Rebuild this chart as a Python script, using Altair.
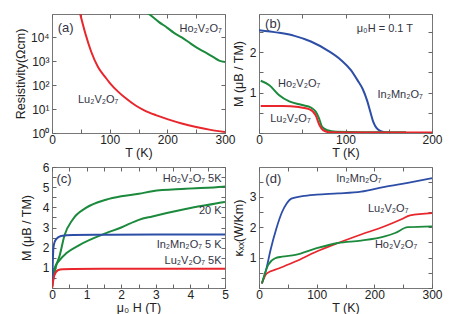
import altair as alt
import pandas as pd

RED = "#e8262c"
GREEN = "#1b8a3c"
BLUE = "#2d4ea6"
FONT = "Liberation Sans"
TXT = "#333344"

# ---------------- (a) resistivity ----------------
a_lu_T = [49, 58, 68, 80, 92, 100, 115, 128, 145, 160, 180, 200, 225, 250, 275, 300]
a_lu_rho = [93300, 14100, 2510, 562, 224, 126, 52.5, 28.2, 14.1, 8.9, 5.6, 3.8, 2.5, 1.78, 1.35, 1.1]
a_ho_T = [160, 168, 185, 200, 211, 225, 240, 251, 266, 280, 290, 300]
a_ho_rho = [131800, 95500, 44700, 25100, 15850, 10000, 5620, 3720, 2340, 1480, 1070, 933]

# ---------------- (b) M vs T ----------------
b_in_T = [0, 22, 41, 60, 80, 95, 106, 114, 120, 125, 129, 132, 136, 140, 145, 150]
b_in_M = [2.54, 2.48, 2.4, 2.26, 2.03, 1.8, 1.56, 1.3, 1.08, 0.8, 0.5, 0.28, 0.12, 0.05, 0.02, 0.01]
b_ho_T = [2, 12, 23, 35, 50, 60, 65.5, 69.4, 73, 79, 89, 120, 170]
b_ho_M = [1.29, 1.18, 0.94, 0.78, 0.69, 0.63, 0.53, 0.36, 0.15, 0.07, 0.03, 0.02, 0.02]
b_lu_T = [2, 27, 46, 58, 65.5, 70, 74, 81, 120, 200]
b_lu_M = [0.67, 0.67, 0.64, 0.59, 0.44, 0.19, 0.07, 0.02, 0.01, 0.01]

# ---------------- (c) M vs H ----------------
c_ho5_H = [0, 0.05, 0.12, 0.22, 0.36, 0.6, 0.98, 1.56, 2.0, 2.51, 2.9, 3.86, 4.94, 5.0]
c_ho5_M = [0, 0.6, 1.1, 1.6, 2.6, 3.4, 3.97, 4.38, 4.55, 4.67, 4.8, 4.92, 5.02, 5.03]
c_ho20_H = [0, 0.03, 0.07, 0.22, 0.41, 0.79, 1.56, 2.0, 2.51, 2.9, 3.86, 4.94, 5.0]
c_ho20_M = [0, 0.5, 0.97, 1.38, 1.72, 2.13, 2.72, 3.0, 3.38, 3.55, 3.92, 4.25, 4.27]
c_in_H = [0, 0.02, 0.04, 0.07, 0.12, 0.26, 0.6, 1.5, 3.0, 5.0]
c_in_M = [0, 1.13, 1.97, 2.25, 2.42, 2.58, 2.63, 2.64, 2.65, 2.65]
c_lu_H = [0, 0.07, 0.17, 0.31, 0.6, 2.0, 5.0]
c_lu_M = [0, 0.63, 0.88, 0.93, 0.94, 0.95, 0.95]

# ---------------- (d) thermal conductivity ----------------
d_in_T = [5, 13, 20, 30, 40, 48, 56, 75, 100, 137, 177, 218, 258, 300]
d_in_K = [0.15, 0.65, 1.25, 1.95, 2.5, 2.78, 2.94, 3.02, 3.07, 3.11, 3.17, 3.33, 3.46, 3.61]
d_lu_T = [5, 13.5, 34, 63, 100, 137, 177, 218, 247, 262, 300]
d_lu_K = [0.15, 0.48, 0.64, 0.87, 1.2, 1.48, 1.76, 2.03, 2.26, 2.39, 2.46]
d_ho_T = [5, 16, 28, 40, 63, 100, 137, 177, 218, 236, 258, 300]
d_ho_K = [0.15, 0.76, 0.98, 1.03, 1.09, 1.31, 1.48, 1.56, 1.7, 1.81, 2.0, 2.03]

# annotation texts: (text, x, y, align, size)
a_txt = [("(a)", 10, 25000, "left", 13), ("Ho₂V₂O₇", 221, 22000, "left", 11),
         ("Lu₂V₂O₇", 45, 25, "left", 11)]
b_txt = [("(b)", 7, 2.7, "left", 13), ("μ₀H = 0.1 T", 113, 2.57, "left", 11),
         ("Ho₂V₂O₇", 22, 1.2, "left", 11), ("Lu₂V₂O₇", 13, 0.35, "left", 11),
         ("In₂Mn₂O₇", 137, 0.93, "left", 11)]
c_txt = [("(c)", 0.13, 5.4, "left", 13), ("Ho₂V₂O₇ 5K", 4.9, 5.4, "right", 11),
         ("20 K", 4.9, 3.8, "right", 11), ("In₂Mn₂O₇ 5 K", 4.9, 2.14, "right", 11),
         ("Lu₂V₂O₇ 5K", 4.9, 1.35, "right", 11)]
d_txt = [("(d)", 11, 3.6, "left", 13), ("In₂Mn₂O₇", 134, 3.57, "left", 11),
         ("Lu₂V₂O₇", 189, 2.6, "left", 11), ("Ho₂V₂O₇", 201, 1.43, "left", 11)]


def long(series):
    rows = []
    for name, col, xs, ys in series:
        for i, (x, y) in enumerate(zip(xs, ys)):
            rows.append({"s": name, "c": col, "x": x, "y": y, "o": i})
    return pd.DataFrame(rows)


def frange(a, b, step):
    out = []
    v = a
    while v <= b + 1e-9:
        out.append(round(v, 6))
        v += step
    return out


def panel(series, txt, xscale, yscale, xvals, yvals, xlab, ylab,
          xtitle, ytitle, w, h, ytp, swidth=2):
    df = long(series)
    common = dict(offset=-4, tickSize=4, domain=False, grid=False,
                  labelFlush=False, labelOverlap=False)
    xa = alt.Axis(orient="bottom", values=xvals, labelExpr=xlab, title=xtitle,
                  labelPadding=1, titlePadding=1, **common)
    ya = alt.Axis(orient="left", values=yvals, labelExpr=ylab, title=ytitle,
                  labelPadding=3, titlePadding=ytp, **common)
    xm = alt.Axis(orient="top", values=xvals, labels=False, title=None, **common)
    ym = alt.Axis(orient="right", values=yvals, labels=False, title=None, **common)
    base = alt.Chart(df)
    lines = base.mark_line(strokeWidth=swidth, clip=True, interpolate="monotone").encode(
        x=alt.X("x:Q", scale=xscale, axis=xa),
        y=alt.Y("y:Q", scale=yscale, axis=ya),
        color=alt.Color("c:N", scale=None),
        detail="s:N",
        order="o:Q",
    )
    mirror = base.mark_line(opacity=0).encode(
        x=alt.X("x:Q", scale=xscale, axis=xm),
        y=alt.Y("y:Q", scale=yscale, axis=ym),
        detail="s:N",
    )
    layers = [lines, mirror]
    tdf = pd.DataFrame([{"t": t, "x": x, "y": y, "al": al, "fs": fs} for t, x, y, al, fs in txt])
    for al in ["left", "right"]:
        for fs in [11, 13]:
            sub = tdf[(tdf.al == al) & (tdf.fs == fs)]
            if len(sub) == 0:
                continue
            layers.append(
                alt.Chart(sub).mark_text(align=al, baseline="middle", fontSize=fs,
                                         font=FONT, color=TXT).encode(
                    x=alt.X("x:Q", scale=xscale, axis=None),
                    y=alt.Y("y:Q", scale=yscale, axis=None),
                    text="t:N",
                )
            )
    return alt.layer(*layers).resolve_axis(x="independent", y="independent").properties(
        width=w, height=h)


lab100 = "datum.value % 100 === 0 ? format(datum.value, 'd') : ''"
labInt = "datum.value % 1 === 0 && datum.value > 0 ? format(datum.value, 'd') : ''"
labInt0 = "datum.value % 1 === 0 ? format(datum.value, 'd') : ''"
labLog = "'10' + ['⁰','¹','²','³','⁴','⁵'][round(log(datum.value)/LN10)]"

W = 173
pa = panel(
    [("Lu", RED, a_lu_T, a_lu_rho), ("Ho", GREEN, a_ho_T, a_ho_rho)], a_txt,
    alt.Scale(domain=[0, 300], nice=False, padding=0),
    alt.Scale(type="log", domain=[1, 95000], nice=False, padding=0),
    frange(0, 300, 50), [1, 10, 100, 1000, 10000], lab100, labLog,
    "T (K)", "Resistivity(Ωcm)", W, 119, 3)
pb = panel(
    [("In", BLUE, b_in_T, b_in_M), ("Ho", GREEN, b_ho_T, b_ho_M), ("Lu", RED, b_lu_T, b_lu_M)],
    b_txt,
    alt.Scale(domain=[0, 200], nice=False, padding=0),
    alt.Scale(domain=[0, 2.94], nice=False, padding=0),
    frange(0, 200, 50), frange(0, 2.5, 0.5), lab100, labInt,
    "T (K)", "M (μB / TM)", W, 119, 4)
pc = panel(
    [("Ho5", GREEN, c_ho5_H, c_ho5_M), ("Ho20", GREEN, c_ho20_H, c_ho20_M),
     ("In", BLUE, c_in_H, c_in_M), ("Lu", RED, c_lu_H, c_lu_M)],
    c_txt,
    alt.Scale(domain=[0, 5], nice=False, padding=0),
    alt.Scale(domain=[0, 6], nice=False, padding=0),
    frange(0, 5, 0.5), frange(0, 6, 0.5), labInt0, labInt,
    "μ₀ H (T)", "M (μB / TM)", W, 121, 9)
pd_ = panel(
    [("In", BLUE, d_in_T, d_in_K), ("Lu", RED, d_lu_T, d_lu_K), ("Ho", GREEN, d_ho_T, d_ho_K)],
    d_txt,
    alt.Scale(domain=[0, 300], nice=False, padding=0),
    alt.Scale(domain=[0, 3.98], nice=False, padding=0),
    frange(0, 300, 50), frange(0, 3.5, 0.5), lab100, labInt,
    "T (K)", "κₓₓ(W/Km)", W, 121, 4, swidth=1.8)

chart = alt.concat(pa, pb, pc, pd_, columns=2, spacing={"row": 34, "column": 34},
                   bounds="flush").properties(
    padding={"left": 5, "top": 2, "right": 2, "bottom": 2}
).configure_view(stroke="#777", strokeWidth=1).configure_axis(
    labelFont=FONT, titleFont=FONT, labelFontSize=12, titleFontSize=12.5,
    labelColor="#222", titleColor="#222", tickColor="#666", titleFontWeight="normal"
)

chart.save("out.html", embed_options={"renderer": "svg", "actions": False})
